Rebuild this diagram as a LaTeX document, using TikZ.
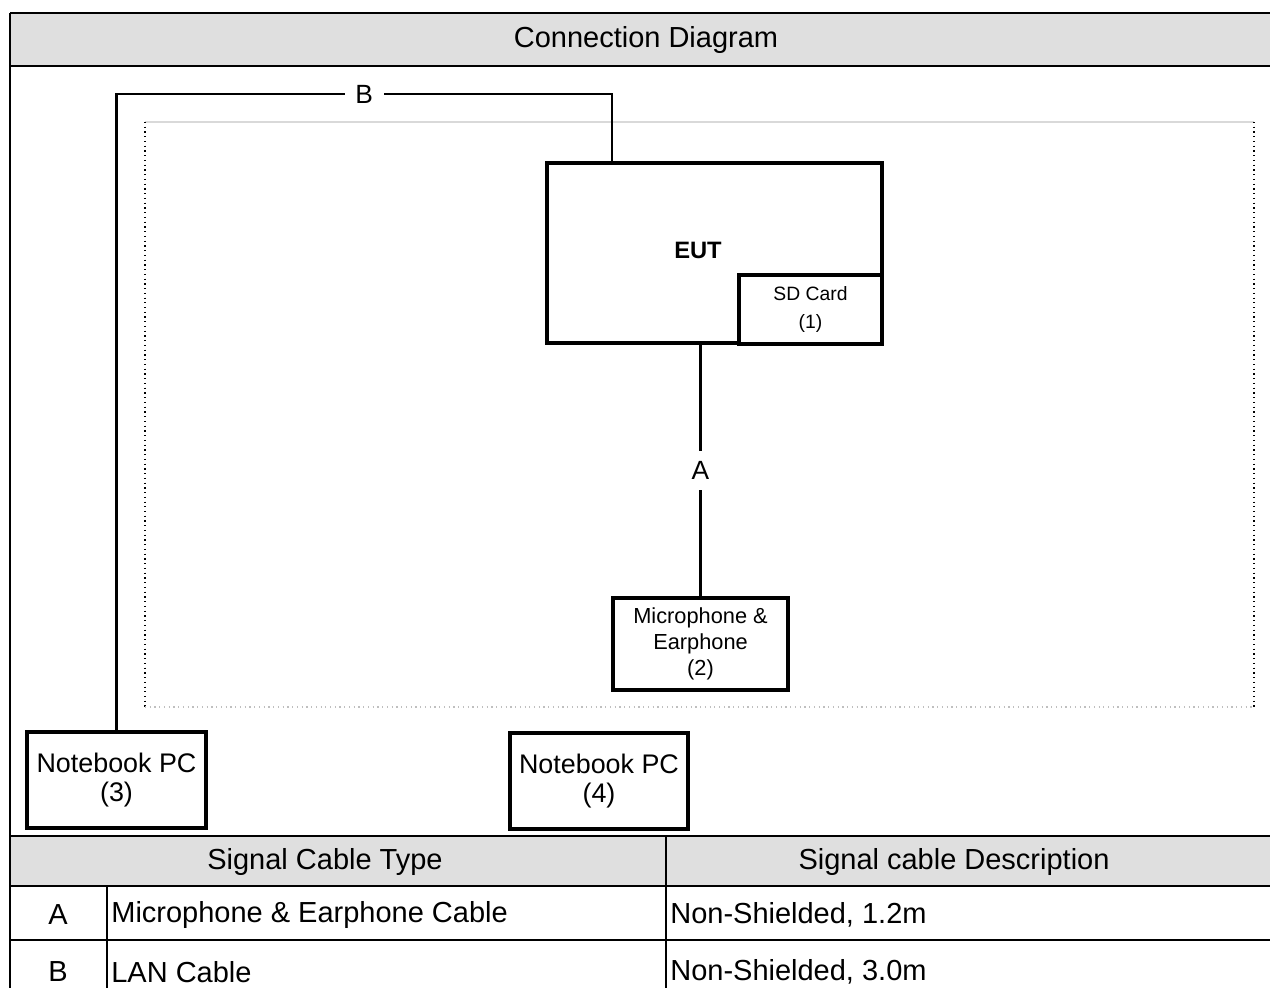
\documentclass[tikz,border=0pt]{standalone}
\usepackage{fontspec}
\setmainfont{Liberation Sans}
\definecolor{headgray}{RGB}{223,223,223}

\begin{document}
\begin{tikzpicture}[x=0.02cm,y=-0.02cm,
    box/.style={draw,line width=1.8pt,inner sep=0pt,fill=white,align=center},
    cable/.style={line width=1.4pt},
    rule/.style={line width=1.6pt},
    lbl/.style={fill=white,inner sep=6pt,font=\fontsize{15}{18}\selectfont},
    cell/.style={inner sep=0pt,font=\fontsize{16.5}{20}\selectfont}]
    \useasboundingbox (0,0) rectangle (1270,987);

    % title row
    \fill[headgray] (10,13) rectangle (1272,66);
    \node[cell] (title) at (646,40) {Connection Diagram};

    % test table area
    \draw[gray!30,line width=1pt] (145,122) -- (1254,122);
    \draw[dotted,line width=0.7pt] (145,122) -- (145,707);
    \draw[dotted,line width=0.7pt] (1254,122) -- (1254,707);
    \draw[dotted,gray!50,line width=0.7pt] (145,707) -- (1254,707);

    % units
    \node[box,minimum width=6.7cm,minimum height=3.6cm] (EUT) at (714.5,253) {};
    \node[font=\fontsize{13.5}{16}\selectfont\bfseries] (EUTname) at (698,250) {EUT};
    \node[box,minimum width=2.86cm,minimum height=1.38cm,
          font=\fontsize{11}{16.4}\selectfont] (SD) at (810.5,309.5) {SD Card\\(1)};
    \node[box,minimum width=3.5cm,minimum height=1.84cm,
          font=\fontsize{12.4}{14.7}\selectfont] (Mic) at (700.5,644) {Microphone \&\\Earphone\\(2)};
    \node[box,minimum width=3.58cm,minimum height=1.92cm,
          font=\fontsize{15.3}{17}\selectfont] (PC3) at (116.5,780) {Notebook PC\\(3)};
    \node[box,minimum width=3.56cm,minimum height=1.92cm,
          font=\fontsize{15.3}{17}\selectfont] (PC4) at (599,781) {Notebook PC\\(4)};

    % cables
    \coordinate (B1) at (116.5,94);
    \coordinate (B2) at (612,94);
    \draw[cable] (PC3.north) -- (B1) -- node[lbl] (Bname) {B} (B2) -- (B2 |- EUT.north);
    \draw[cable] (Mic.north |- EUT.south) -- node[lbl] (Aname) {A} (Mic.north);

    % cable table
    \fill[headgray] (10,836) rectangle (1272,886);
    \draw[rule] (10,13) -- (1272,13);
    \draw[rule] (10,66) -- (1272,66);
    \draw[rule] (10,836) -- (1272,836);
    \draw[rule] (10,886) -- (1272,886);
    \draw[rule] (10,940) -- (1272,940);
    \draw[rule] (10,13) -- (10,990);
    \draw[rule] (666,836) -- (666,990);
    \draw[rule] (107,886) -- (107,990);

    \node[cell] (typehead) at (325,862) {Signal Cable Type};
    \node[cell] (deschead) at (954,862) {Signal cable Description};
    \node[cell] (rowA) at (58,915) {A};
    \node[cell,anchor=west] (typeA) at (111,915) {Microphone \& Earphone Cable};
    \node[cell,anchor=west] (descA) at (670,915) {Non-Shielded, 1.2m};
    \node[cell] (rowB) at (58,972) {B};
    \node[cell,anchor=west] (typeB) at (111,972) {LAN Cable};
    \node[cell,anchor=west] (descB) at (670,972) {Non-Shielded, 3.0m};
\end{tikzpicture}
\end{document}
